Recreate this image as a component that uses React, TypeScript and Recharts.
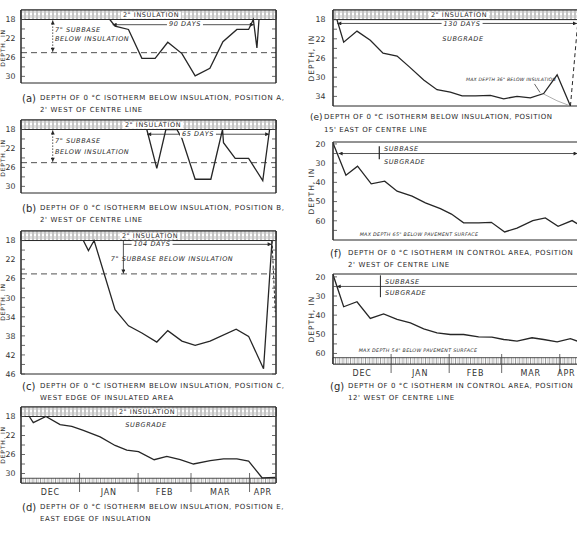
import React from 'react';
import { LineChart, Line, XAxis, YAxis, ReferenceArea, ReferenceLine } from 'recharts';

// x = days from 1 December, y = depth of the 0 °C isotherm in inches
const daysA = [47, 49.8, 56.9, 64, 71, 77.7, 85.2, 92.2, 100, 106.9, 114.3, 120.5, 123, 124.9, 126];
const depthA = [18, 19.4, 20.1, 26.2, 26.2, 22.8, 25.2, 29.9, 28.3, 22.7, 20.1, 20.1, 18, 24, 18];

const daysB = [66.6, 71.9, 76.7, 82.5, 85.2, 92.2, 100.5, 106.7, 107.2, 113.4, 120.5, 128, 131.6];
const depthB = [18, 26.2, 18, 18, 19.9, 28.5, 28.5, 18, 20.8, 24.1, 24.1, 28.8, 18];

const daysC = [33, 35.7, 38.7, 49.8, 56.9, 64, 71.9, 77.7, 85.2, 92.2, 100.1, 113.9, 120.5, 128.4, 132.9];
const depthC = [18, 20.1, 18, 32.5, 35.9, 37.4, 39.3, 36.9, 39.1, 40, 39.1, 36.6, 38.1, 44.9, 18];
const daysCTail = [132.9, 134.6];
const depthCTail = [18, 33];

const daysD = [4.4, 6.5, 13.2, 20.7, 26.9, 33, 41.9, 49.8, 56, 62.2, 70.5, 77.2, 84.3, 91.3, 100.2, 107.2, 114.3, 120.5, 127.6, 134.6];
const depthD = [18, 19.3, 18, 19.7, 20.1, 20.9, 22.3, 24.1, 25.1, 25.4, 27.1, 26.4, 27.1, 28, 27.3, 26.9, 26.9, 27.4, 30.9, 30.8];

const daysE = [2.1, 5.7, 12.8, 19.9, 26.7, 34.2, 40.9, 48.4, 55.5, 62.6, 68.9, 76, 84, 91.1, 98.2, 105.3, 112.4, 119.6, 126.7];
const depthE = [18, 22.7, 20.4, 22.3, 25, 25.6, 27.9, 30.6, 32.6, 33.1, 33.9, 33.9, 33.8, 34.5, 34, 34.3, 33.4, 29.5, 36];
const daysEMax = [112.4, 119.5, 126.7];
const depthEMax = [33.5, 34.9, 36];
const daysETail = [126.7, 130.4];
const depthETail = [36, 19.5];

const daysF = [0, 6.9, 13.1, 20.4, 27.6, 34.2, 42.2, 49.3, 57.3, 63.2, 69.7, 77.7, 84.5, 91.6, 98.2, 106.6, 113.3, 120.1, 127.6, 130.3];
const depthF = [19.5, 36.3, 31.6, 40.8, 39.4, 44.6, 47.2, 50.7, 53.7, 56.5, 61.1, 61.1, 60.8, 65.8, 63.8, 59.9, 58.5, 62.9, 59.9, 61.5];

const daysG = [0, 5.7, 12.8, 19.9, 27, 34.2, 41.3, 48.4, 55.5, 62.6, 69.7, 77.7, 84.8, 91.1, 98.2, 106.2, 112.4, 119.6, 126.7, 130.3];
const depthG = [18.8, 35.6, 33, 41.7, 39.3, 42.2, 44, 47.1, 49.2, 50.1, 50.1, 51.3, 51.5, 52.7, 53.5, 51.8, 52.7, 53.9, 52.3, 53.5];

const monthNames = ['DEC', 'JAN', 'FEB', 'MAR', 'APR'];
const monthCentres = [15.5, 46.5, 76, 105.5, 128];
// right column is cut by the page edge, so its APR label sits a little further left
const monthCentresRight = [15.5, 46.5, 76, 105.5, 124.5];
const monthBounds = [31, 62, 90, 121];

const ticksShort = [18, 20, 22, 24, 26, 28, 30];
const labelsShort = [18, 22, 26, 30];
const ticksC = [18, 20, 22, 24, 26, 28, 30, 32, 34, 36, 38, 40, 42, 44, 46];
const labelsC = [18, 22, 26, 30, 34, 38, 42, 46];
const ticksE = [18, 20, 22, 24, 26, 28, 30, 32, 34];
const labelsE = [18, 22, 26, 30, 34];
const ticksF = [20, 25, 30, 35, 40, 45, 50, 55, 60, 65];
const ticksG = [20, 25, 30, 35, 40, 45, 50, 55, 60];
const labelsCtrl = [20, 30, 40, 50, 60];

const pts = (days: number[], depths: number[]) => days.map((d, i) => ({ day: d, depth: depths[i] }));

const INK = '#262626';

function MonthTick({ x, y, payload, centres }: any) {
  const i = centres.indexOf(payload.value);
  if (i >= 0) {
    return (
      <text x={x} y={y + 12} textAnchor="middle" fontSize={8} fill="#333" letterSpacing={0.8}>
        {monthNames[i]}
      </text>
    );
  }
  return <line x1={x} x2={x} y1={y - 10} y2={y + 9} stroke="#444" strokeWidth={0.8} />;
}

type Series = { days: number[]; depths: number[]; dash?: string; color?: string; w?: number };
type PanelProps = {
  left: number; top: number; width: number; height: number; yw: number; rightAxis: boolean;
  domain: [number, number]; ticks: number[]; labels: number[]; months?: boolean; band?: boolean;
  strip?: [number, number]; series: Series[]; extras?: React.ReactNode[]; tickMargin: number; mb?: number;
  centres: number[];
};

function Panel(p: PanelProps) {
  const fmt = (v: number) => (p.labels.includes(v) ? String(v) : '');
  const mTicks = [...monthBounds, ...p.centres].sort((a, b) => a - b);
  return (
    <div style={{ position: 'absolute', left: p.left, top: p.top }}>
      <LineChart
        width={p.width}
        height={p.height}
        margin={{ top: 10, right: p.rightAxis ? 4 : 2, bottom: p.mb ?? (p.months ? 0 : 2), left: 0 }}
      >
        <XAxis
          type="number"
          dataKey="day"
          domain={[0, 135]}
          allowDataOverflow
          hide={!p.months}
          height={20}
          ticks={mTicks}
          interval={0}
          tickSize={0}
          tickMargin={0}
          tickLine={false}
          axisLine={false}
          tick={(t: any) => <MonthTick {...t} centres={p.centres} />}
        />
        <YAxis
          yAxisId={0}
          type="number"
          width={p.yw}
          domain={p.domain}
          allowDataOverflow
          reversed
          ticks={p.ticks}
          interval={0}
          tickFormatter={fmt}
          tickSize={-4}
          tickMargin={p.tickMargin}
          tick={{ fontSize: 7.8, fill: '#333' }}
          tickLine={{ stroke: '#444', strokeWidth: 0.8 }}
          axisLine={{ stroke: INK }}
          label={p.rightAxis ? undefined : { value: 'DEPTH, IN', angle: -90, position: 'center', fontSize: 7.5, fill: '#333', letterSpacing: 1 }}
        />
        {p.rightAxis && (
          <YAxis
            yAxisId="r"
            orientation="right"
            type="number"
            width={1}
            domain={p.domain}
            allowDataOverflow
            reversed
            ticks={p.ticks}
            interval={0}
            tickFormatter={() => ''}
            tickSize={-4}
            tickLine={{ stroke: '#444', strokeWidth: 0.8 }}
            axisLine={{ stroke: INK }}
          />
        )}
        <ReferenceArea x1={0} x2={135} y1={p.domain[0]} y2={p.domain[1]} fill="none" stroke={INK} strokeWidth={1} />
        {p.band && (
          <ReferenceArea x1={0} x2={135} y1={p.domain[0]} y2={18} fill="url(#insul)" fillOpacity={1} stroke={INK} strokeWidth={1} />
        )}
        {p.strip && (
          <ReferenceArea x1={0} x2={135} y1={p.strip[0]} y2={p.strip[1]} fill="url(#ruler)" fillOpacity={1} stroke={INK} strokeWidth={0.8} />
        )}
        {p.extras}
        {p.series.map((s, i) => (
          <Line
            key={i}
            data={pts(s.days, s.depths)}
            dataKey="depth"
            type="linear"
            stroke={s.color ?? INK}
            strokeWidth={s.w ?? 1.3}
            strokeDasharray={s.dash}
            dot={false}
            isAnimationActive={false}
          />
        ))}
      </LineChart>
    </div>
  );
}

const seg = (x1: number, y1: number, x2: number, y2: number, key: string, opts: any = {}) => (
  <ReferenceLine
    key={key}
    segment={[{ x: x1, y: y1 }, { x: x2, y: y2 }]}
    stroke={opts.stroke ?? INK}
    strokeWidth={opts.w ?? 0.8}
    strokeDasharray={opts.dash}
    markerStart={opts.start ? 'url(#arr)' : undefined}
    markerEnd={opts.end ? 'url(#arr)' : undefined}
    ifOverflow="visible"
  />
);

function T({ x, y, c, size = 6.5, italic = false, center = false, bg = false, ls = 0.6 }: any) {
  return (
    <div
      style={{
        position: 'absolute', left: x, top: y, whiteSpace: 'nowrap', fontSize: size, lineHeight: 1,
        fontStyle: italic ? 'italic' : 'normal', letterSpacing: ls, color: '#2a2a2a',
        transform: center ? 'translate(-50%, -50%)' : 'translate(0, -50%)',
        background: bg ? '#fff' : 'transparent', padding: bg ? '0 2px' : 0,
      }}
    >
      {c}
    </div>
  );
}

// rotated axis title for the left column, whose axis area is cut by the page edge
function SideLabel({ y }: { y: number }) {
  return (
    <div
      style={{
        position: 'absolute', left: 3, top: y, whiteSpace: 'nowrap', fontSize: 6, lineHeight: 1,
        letterSpacing: 0.8, color: '#333', transform: 'translate(-50%, -50%) rotate(-90deg)',
      }}
    >
      DEPTH, IN
    </div>
  );
}

function Caption({ x, y, tag, lines, gap = 12, indent = 18, tagSize = 10, ls = 0.65 }: any) {
  return (
    <div style={{ position: 'absolute', left: x, top: y - 6, whiteSpace: 'nowrap', color: '#2a2a2a' }}>
      <div style={{ display: 'flex', alignItems: 'center', height: 12 }}>
        <span style={{ width: indent, fontSize: tagSize }}>{tag}</span>
        <span style={{ fontSize: 7, letterSpacing: ls }}>{lines[0]}</span>
      </div>
      <div style={{ height: gap, display: 'flex', alignItems: 'center', paddingLeft: indent, fontSize: 7, letterSpacing: ls }}>
        {lines[1]}
      </div>
    </div>
  );
}

const L = { left: -20, width: 301, yw: 41, rightAxis: true, tickMargin: 9.5, centres: monthCentres };
const R = { left: 290, width: 298, yw: 43, rightAxis: false, tickMargin: 11.5, centres: monthCentresRight };

export default function App() {
  return (
    <div
      style={{
        position: 'absolute', left: 0, top: 0, width: 577, height: 533, overflow: 'hidden',
        background: '#fff', fontFamily: '"DejaVu Sans", sans-serif',
      }}
    >
      <svg width={0} height={0} style={{ position: 'absolute' }}>
        <defs>
          <marker id="arr" viewBox="0 0 10 10" refX="10" refY="5" markerWidth="5" markerHeight="4" markerUnits="userSpaceOnUse" orient="auto-start-reverse">
            <path d="M0,0 L10,5 L0,10 z" fill={INK} />
          </marker>
          <pattern id="insul" width="4" height="40" patternUnits="userSpaceOnUse">
            <rect width="4" height="40" fill="#fff" />
            <line x1="1" x2="1" y1="0" y2="40" stroke="#555" strokeWidth="0.7" />
            <line x1="3" x2="3" y1="0" y2="40" stroke="#999" strokeWidth="0.6" strokeDasharray="3 2" />
          </pattern>
          <pattern id="ruler" width="3.75" height="40" patternUnits="userSpaceOnUse">
            <rect width="3.75" height="40" fill="#fff" />
            <line x1="0.5" x2="0.5" y1="0" y2="40" stroke="#555" strokeWidth="0.6" />
            <line x1="2.4" x2="2.4" y1="0" y2="40" stroke="#aaa" strokeWidth="0.5" />
          </pattern>
        </defs>
      </svg>

      {/* (a) */}
      <Panel
        {...L} top={0} height={85} domain={[16, 31.4]} ticks={ticksShort} labels={labelsShort} band
        series={[{ days: daysA, depths: depthA }]}
        extras={[
          <ReferenceLine key="d" y={25} stroke={INK} strokeWidth={0.8} strokeDasharray="6 4" />,
          seg(48.5, 19.1, 123.3, 19.1, 'days', { start: true, end: true }),
          seg(16.8, 18.2, 16.8, 24.8, 'sub', { dash: '1.5 1.5', start: true, end: true }),
        ]}
      />
      <SideLabel y={48} />
      <T x={151} y={15} c={'2" INSULATION'} center bg />
      <T x={185} y={24} c="90 DAYS" center bg italic />
      <T x={55} y={30} c={'7" SUBBASE'} italic />
      <T x={55} y={39} c="BELOW INSULATION" italic />
      <Caption x={22} y={98} tag="(a)" lines={['DEPTH OF 0 °C ISOTHERM BELOW INSULATION, POSITION A,', "2' WEST OF CENTRE LINE"]} />

      {/* (b) */}
      <Panel
        {...L} top={110} height={85} domain={[16, 31.4]} ticks={ticksShort} labels={labelsShort} band
        series={[{ days: daysB, depths: depthB }]}
        extras={[
          <ReferenceLine key="d" y={25} stroke={INK} strokeWidth={0.8} strokeDasharray="6 4" />,
          seg(66.8, 19, 131.4, 19, 'days', { start: true, end: true }),
          seg(16.8, 18.2, 16.8, 24.8, 'sub', { dash: '1.5 1.5', start: true, end: true }),
        ]}
      />
      <SideLabel y={158} />
      <T x={153} y={125} c={'2" INSULATION'} center bg />
      <T x={198} y={134} c="65 DAYS" center bg italic />
      <T x={55} y={141} c={'7" SUBBASE'} italic />
      <T x={55} y={152} c="BELOW INSULATION" italic />
      <Caption x={22} y={208} tag="(b)" lines={['DEPTH OF 0 °C ISOTHERM BELOW INSULATION, POSITION B,', "2' WEST OF CENTRE LINE"]} />

      {/* (c) */}
      <Panel
        {...L} top={221} height={160} mb={7} domain={[16, 46]} ticks={ticksC} labels={labelsC} band
        series={[{ days: daysC, depths: depthC }, { days: daysCTail, depths: depthCTail, dash: '3 2', w: 1 }]}
        extras={[
          <ReferenceLine key="d" y={25} stroke={INK} strokeWidth={0.8} strokeDasharray="6 4" />,
          seg(54.2, 18.8, 132.7, 18.8, 'days', { end: true }),
          seg(54.2, 18.1, 54.2, 24.9, 'sub', { end: true }),
        ]}
      />
      <SideLabel y={302} />
      <T x={150} y={235.5} c={'2" INSULATION'} center bg />
      <T x={152} y={244} c="104 DAYS" center bg italic />
      <T x={172} y={259} c={'7" SUBBASE BELOW INSULATION'} center italic />
      <Caption x={22} y={386} tag="(c)" lines={['DEPTH OF 0 °C ISOTHERM BELOW INSULATION, POSITION C,', 'WEST EDGE OF INSULATED AREA']} />

      {/* (d) */}
      <Panel
        {...L} top={397} height={106} domain={[16, 32]} ticks={ticksShort} labels={labelsShort} band months strip={[31, 32]}
        series={[{ days: daysD, depths: depthD }]}
      />
      <SideLabel y={445} />
      <T x={147} y={412} c={'2" INSULATION'} center bg />
      <T x={146} y={425} c="SUBGRADE" center italic />
      <Caption x={22} y={507} tag="(d)" gap={11} lines={['DEPTH OF 0 °C ISOTHERM BELOW INSULATION, POSITION E,', 'EAST EDGE OF INSULATION']} />

      {/* (e) */}
      <Panel
        {...R} top={0} height={108} domain={[16, 36]} ticks={ticksE} labels={labelsE} band
        series={[
          { days: daysEMax, depths: depthEMax, color: '#9a9a9a', w: 0.8 },
          { days: daysE, depths: depthE },
          { days: daysETail, depths: depthETail, dash: '4 3', w: 1 },
        ]}
        extras={[
          seg(2.3, 18.8, 130.2, 18.8, 'days', { start: true, end: true }),
          seg(107.5, 31.4, 110.5, 33.2, 'lead', { w: 0.7 }),
        ]}
      />
      <T x={459} y={15} c={'2" INSULATION'} center bg />
      <T x={462} y={23.5} c="130 DAYS" center bg italic />
      <T x={463} y={38.5} c="SUBGRADE" center italic />
      <T x={511} y={79.5} c={'MAX DEPTH 36" BELOW INSULATION'} center italic size={4.6} ls={0.2} />
      <Caption x={310} y={117} tag="(e)" indent={14} tagSize={9} gap={13} ls={0.55} lines={['DEPTH OF 0 °C ISOTHERM BELOW INSULATION, POSITION', "15' EAST OF CENTRE LINE"]} />

      {/* (f) */}
      <Panel
        {...R} top={132} height={110} domain={[19, 70]} ticks={ticksF} labels={labelsCtrl}
        series={[{ days: daysF, depths: depthF }]}
        extras={[
          seg(3, 25, 130.5, 25, 'ar', { start: true, end: true }),
          seg(24.7, 21.2, 24.7, 28, 'mk', { w: 1.2 }),
        ]}
      />
      <T x={384} y={149} c="SUBBASE" italic />
      <T x={384} y={162} c="SUBGRADE" italic />
      <T x={419} y={234.5} c={'MAX DEPTH 65" BELOW PAVEMENT SURFACE'} center italic size={4.8} ls={0.3} />
      <Caption x={330} y={253} tag="(f)" ls={0.6} lines={['DEPTH OF 0 °C ISOTHERM IN CONTROL AREA, POSITION', "2' WEST OF CENTRE LINE"]} />

      {/* (g) */}
      <Panel
        {...R} top={264} height={120} domain={[18.5, 65.5]} ticks={ticksG} labels={labelsCtrl} months strip={[62.2, 65.5]}
        series={[{ days: daysG, depths: depthG }]}
        extras={[
          seg(2, 25, 135, 25, 'ar', { start: true }),
          seg(25.3, 19.2, 25.3, 30.6, 'mk', { w: 1 }),
        ]}
      />
      <T x={385} y={281.5} c="SUBBASE" italic />
      <T x={385} y={292.5} c="SUBGRADE" italic />
      <T x={418} y={350.5} c={'MAX DEPTH 54" BELOW PAVEMENT SURFACE'} center italic size={4.8} ls={0.3} />
      <Caption x={330} y={386} tag="(g)" ls={0.6} lines={['DEPTH OF 0 °C ISOTHERM IN CONTROL AREA, POSITION', "12' WEST OF CENTRE LINE"]} />
    </div>
  );
}
